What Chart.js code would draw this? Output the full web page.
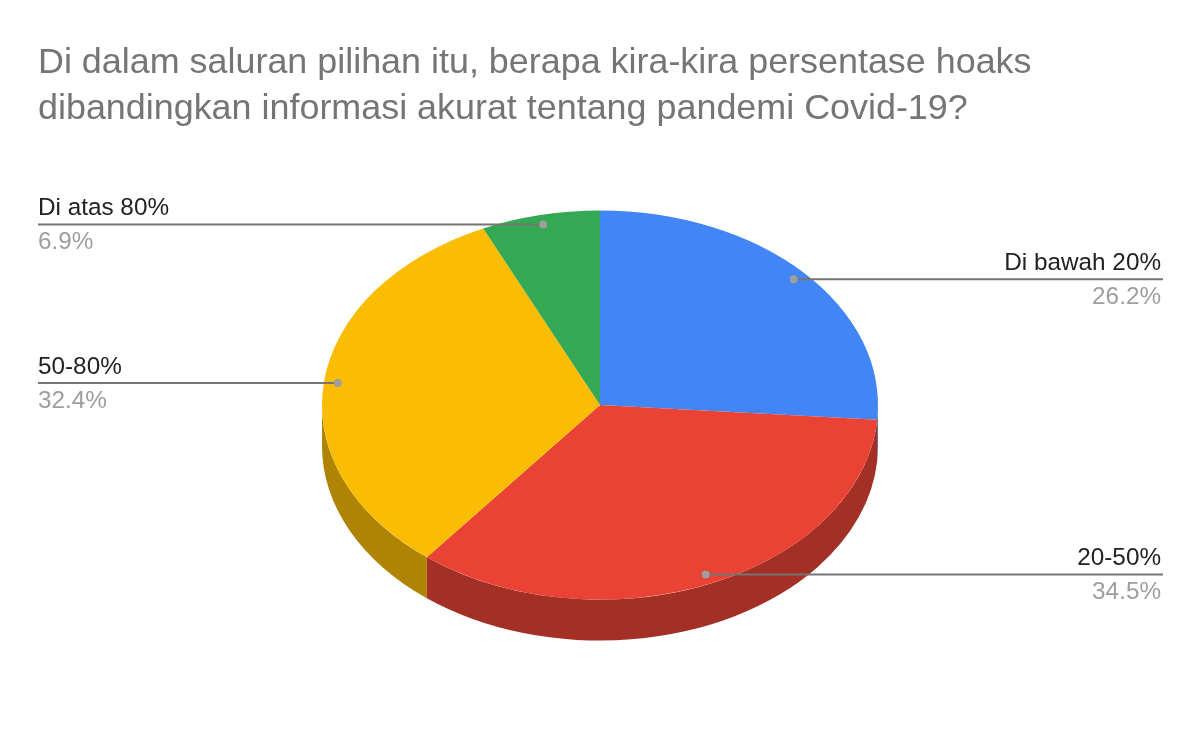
<!DOCTYPE html>
<html>
<head>
<meta charset="utf-8">
<title>Hoaks Covid-19</title>
<script src="https://cdn.jsdelivr.net/npm/chart.js@4/dist/chart.umd.min.js"></script>
<style>
  html, body { margin: 0; padding: 0; background: #fff; }
  canvas { display: block; filter: blur(0.5px); }
</style>
</head>
<body>
<canvas id="myChart" width="1200" height="742"></canvas>
<script>
const titleLines = [
    'Di dalam saluran pilihan itu, berapa kira-kira persentase hoaks',
    'dibandingkan informasi akurat tentang pandemi Covid-19?'
];
const categories = ['Di bawah 20%', '20-50%', '50-80%', 'Di atas 80%'];
const shares = [26.2, 34.5, 32.4, 6.9];
const topColors = ['#4285f4', '#ea4335', '#fbbc04', '#34a853'];
const wallColors = ['#2f5dab', '#a32f25', '#af8303', '#247538'];

// the pie is squashed into an ellipse, top face centre at (600, 405)
const FONT = '"Liberation Sans", Arial, sans-serif';
const squash = 0.7;
const topY = 405;
const depth = 41;
const labelLeft = 38;
const labelRight = 1161;

const tiltPlugin = {
    id: 'tilt',
    beforeDatasetsDraw(chart) {
        const ctx = chart.ctx;
        const arcs = chart.getDatasetMeta(0).data;
        ctx.save();
        ctx.translate(0, topY);
        ctx.scale(1, squash);
        ctx.translate(0, -arcs[0].y);
        // side wall, only the part facing us
        arcs.forEach((arc, i) => {
            const from = Math.max(arc.startAngle, 0);
            const to = Math.min(arc.endAngle, Math.PI);
            if (to <= from) return;
            ctx.beginPath();
            ctx.arc(arc.x, arc.y, arc.outerRadius, from, to);
            ctx.arc(arc.x, arc.y + depth / squash, arc.outerRadius, to, from, true);
            ctx.closePath();
            ctx.fillStyle = wallColors[i];
            ctx.fill();
        });
    },
    afterDatasetsDraw(chart) {
        const ctx = chart.ctx;
        ctx.restore();
        chart.getDatasetMeta(0).data.forEach((arc, i) => {
            const mid = (arc.startAngle + arc.endAngle) / 2;
            const r = arc.outerRadius * 0.95;
            const dotX = arc.x + r * Math.cos(mid);
            const dotY = topY + r * Math.sin(mid) * squash;
            const onRight = dotX > arc.x;
            const textX = onRight ? labelRight : labelLeft;

            ctx.strokeStyle = '#757575';
            ctx.lineWidth = 2;
            ctx.beginPath();
            ctx.moveTo(dotX, dotY);
            ctx.lineTo(onRight ? textX + 2 : textX, dotY);
            ctx.stroke();

            ctx.fillStyle = '#9e9e9e';
            ctx.beginPath();
            ctx.arc(dotX, dotY, 4, 0, Math.PI * 2);
            ctx.fill();

            ctx.font = '24.3px ' + FONT;
            ctx.textAlign = onRight ? 'right' : 'left';
            ctx.textBaseline = 'alphabetic';
            ctx.fillStyle = '#222222';
            ctx.fillText(categories[i], textX, dotY - 9);
            ctx.fillStyle = '#9e9e9e';
            ctx.fillText(shares[i].toFixed(1) + '%', textX, dotY + 25);
        });
    }
};

new Chart(document.getElementById('myChart').getContext('2d'), {
    type: 'pie',
    plugins: [tiltPlugin],
    data: {
        labels: categories,
        datasets: [{
            data: shares,
            backgroundColor: topColors,
            borderWidth: 0,
            clip: false
        }]
    },
    options: {
        responsive: false,
        animation: false,
        devicePixelRatio: 1,
        radius: 278,
        layout: { padding: { left: 38, right: 38, top: 0, bottom: 0 } },
        plugins: {
            legend: { display: false },
            tooltip: { enabled: false },
            title: {
                display: true,
                text: titleLines,
                align: 'start',
                color: '#757575',
                font: { family: FONT, size: 35.9, weight: 'normal', lineHeight: 1.28 },
                padding: { top: 40, bottom: 10 }
            }
        }
    }
});
</script>
</body>
</html>
